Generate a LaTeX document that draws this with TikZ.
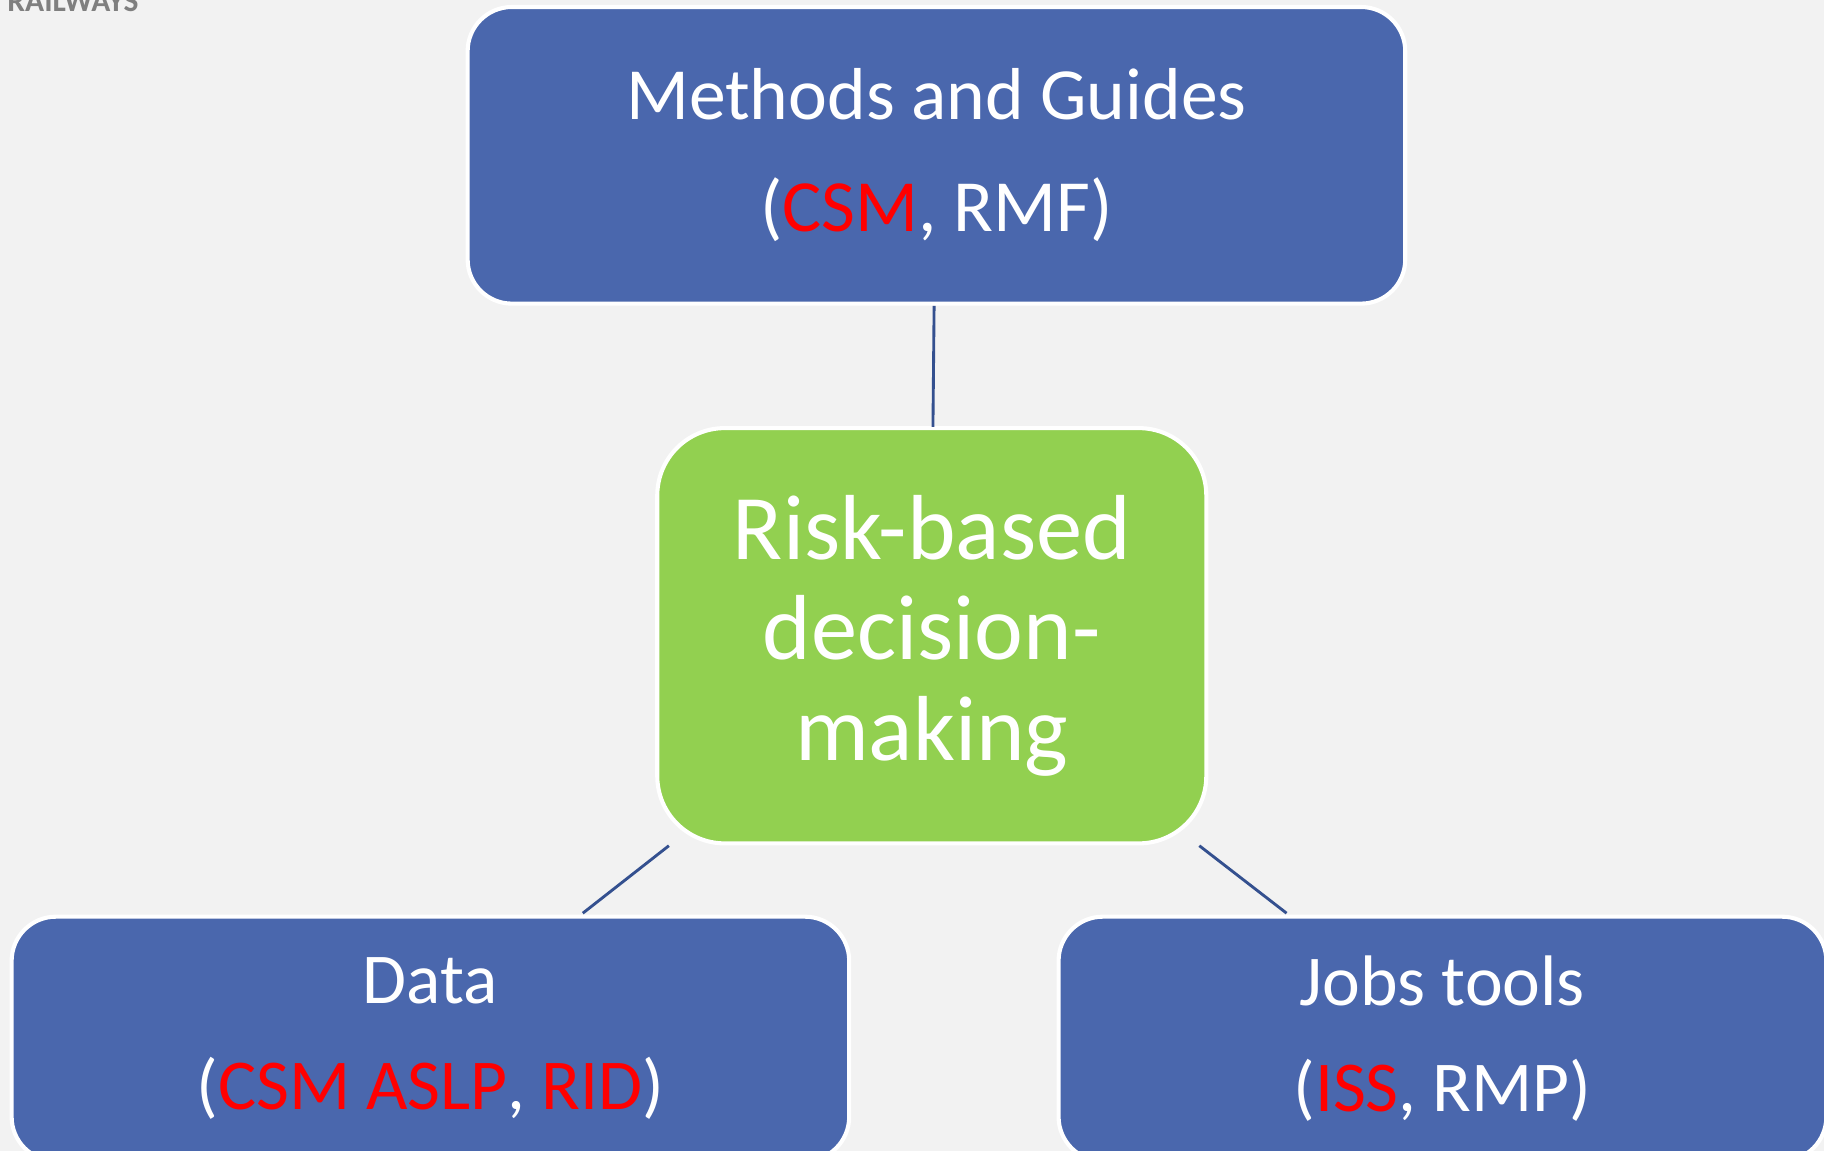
\documentclass[tikz,border=0pt]{standalone}
\usepackage{fontspec}
\setmainfont{Carlito}
\usepackage{tikz}
\usetikzlibrary{positioning,calc}
\definecolor{boxblue}{HTML}{4A67AD}
\definecolor{boxgreen}{HTML}{92D050}
\definecolor{linkblue}{HTML}{34508F}
\definecolor{backgray}{HTML}{F2F2F2}
\definecolor{labelgray}{HTML}{7F7F7F}
\newcommand{\hl}[1]{\textcolor{red}{#1}}

\begin{document}
\begin{tikzpicture}[thick,
  main node/.style={rectangle, rounded corners=0.38cm, fill=boxblue, draw=white, line width=1pt,
    outer sep=0pt, text=white, align=center, inner sep=0pt, font=\fontsize{18}{27.5}\selectfont},
  centre node/.style={rectangle, rounded corners=0.58cm, fill=boxgreen, draw=white, line width=1pt,
    outer sep=0pt, text=white, align=center, inner sep=0pt, minimum width=4.72cm, minimum height=3.57cm,
    font=\fontsize{22.6}{24.6}\selectfont},
  link/.style={draw=linkblue, line width=0.7pt}]

  \path[fill=backgray, use as bounding box] (0,0) rectangle (15.68,-9.89);

  \node[anchor=base west, text=labelgray, inner sep=0pt, font=\bfseries\fontsize{7.7}{9}\selectfont] (rail) at (0.05,-0.10) {RAILWAYS};

  \node[centre node] (risk) at (8.01,-5.465) {Risk-based\\decision-\\making};
  \node[main node, minimum width=8.06cm, minimum height=2.55cm, above=1.07cm of risk, xshift=0.04cm] (methods) {Methods and Guides\\(\hl{CSM}, RMF)};
  \node[main node, minimum width=7.20cm, minimum height=2.10cm, below left=0.63cm and -1.65cm of risk,
    font=\fontsize{17.5}{25.9}\selectfont] (data) {Data\\(\hl{CSM ASLP}, \hl{RID})};
  \node[main node, minimum width=6.60cm, minimum height=2.10cm, below right=0.63cm and -1.27cm of risk,
    font=\fontsize{17.5}{25.9}\selectfont] (jobs) {Jobs tools\\(\hl{ISS}, RMP)};

  \draw[link] ($(methods.south)+(-0.02,-0.02)$) -- ($(risk.north)+(0.01,0.01)$);
  \draw[link] ($(risk.south west)+(0.10,-0.02)$) -- ($(data.north east)+(-2.29,0.03)$);
  \draw[link] ($(risk.south east)+(-0.06,-0.02)$) -- ($(jobs.north west)+(1.96,0.03)$);
\end{tikzpicture}
\end{document}
